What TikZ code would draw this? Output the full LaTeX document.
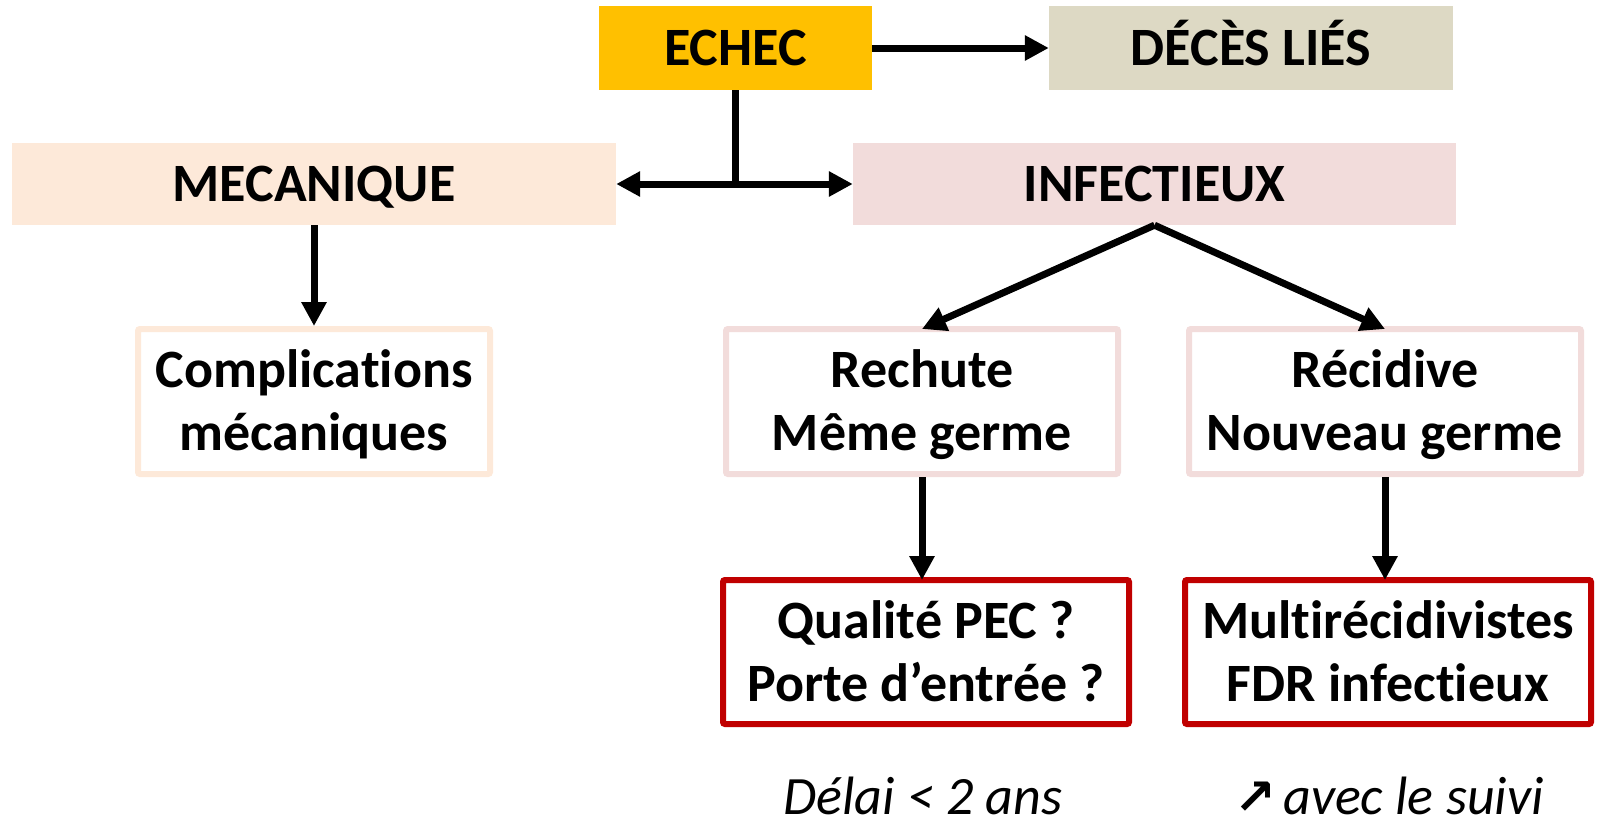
\documentclass[tikz,border=0pt]{standalone}
\usepackage{fontspec}
\setmainfont{Carlito}[Ligatures={NoCommon}]
\newfontfamily\symfont{DejaVu Sans}
\usetikzlibrary{arrows.meta,calc}
\definecolor{echecc}{HTML}{FFC000}
\definecolor{decesc}{HTML}{DDD9C4}
\definecolor{mecac}{HTML}{FDE9D9}
\definecolor{infc}{HTML}{F2DCDB}
\definecolor{redc}{HTML}{C00000}
\newcommand{\ls}{\rule[-14pt]{0pt}{63pt}}
\tikzset{
  fillbox/.style={inner sep=0pt, align=center, font=\bfseries\fontsize{54}{63}\selectfont},
  linebox/.style={inner sep=0pt, align=center, line width=6pt, fill=white, rounded corners=2pt,
     font=\bfseries\fontsize{54}{63}\selectfont},
  conn/.style={line width=7pt, -{Triangle[width=24pt,length=24pt]}},
  plainline/.style={line width=7pt},
  note/.style={font=\itshape\fontsize{54}{60}\selectfont, anchor=base, inner sep=0pt}
}
\begin{document}
\begin{tikzpicture}[x=1pt,y=-1pt]
\useasboundingbox (0,0) rectangle (1599,822);
\node[fillbox, fill=echecc, minimum width=273pt, minimum height=84pt] (echec) at (735.5,48) {\ls ECHEC};
\node[fillbox, fill=decesc, minimum width=404pt, minimum height=84pt] (deces) at (1251,48) {\ls DÉCÈS LIÉS};
\node[fillbox, fill=mecac, minimum width=604pt, minimum height=82pt] (meca) at (314,184) {\ls MECANIQUE};
\node[fillbox, fill=infc, minimum width=603pt, minimum height=82pt] (inf) at (1154.5,184) {\ls INFECTIEUX};
\node[linebox, draw=mecac, minimum width=352pt, minimum height=145pt] (compl) at (314,401.5) {\ls Complications\\\ls mécaniques};
\node[linebox, draw=infc, minimum width=392pt, minimum height=145pt] (rech) at (922,401.5) {\ls Rechute\\\ls Même germe};
\node[linebox, draw=infc, minimum width=392pt, minimum height=145pt] (recid) at (1385,401.5) {\ls Récidive\\\ls Nouveau germe};
\node[linebox, draw=redc, minimum width=406pt, minimum height=144pt] (qual) at (926,652) {\ls Qualité PEC ?\\\ls Porte d’entrée ?};
\node[linebox, draw=redc, minimum width=406pt, minimum height=144pt] (multi) at (1388,652) {\ls Multirécidivistes\\\ls FDR infectieux};
\node[note] (delai) at (923,814) {Délai < 2 ans};
\node[note] (suivi) at (1389,814) {{\symfont\bfseries\fontsize{50}{50}\selectfont ↗}\hspace{7pt}avec le suivi};
\coordinate (junc) at (echec.south |- meca.east);
\draw[conn] (echec.east) -- (deces.west);
\draw[plainline] (echec.south) -- ([yshift=3.5pt]junc);
\draw[line width=7pt, {Triangle[width=24pt,length=24pt]}-{Triangle[width=24pt,length=24pt]}] (meca.east) -- (inf.west);
\draw[conn] (meca.south) -- (compl.north);
\draw[conn] (inf.south) -- ([yshift=-3pt]rech.north);
\draw[conn] (inf.south) -- ([yshift=-3pt]recid.north);
\draw[conn] (rech.south) -- ([yshift=-3pt]rech.south |- qual.north);
\draw[conn] (recid.south) -- ([yshift=-3pt]recid.south |- multi.north);
\end{tikzpicture}
\end{document}
